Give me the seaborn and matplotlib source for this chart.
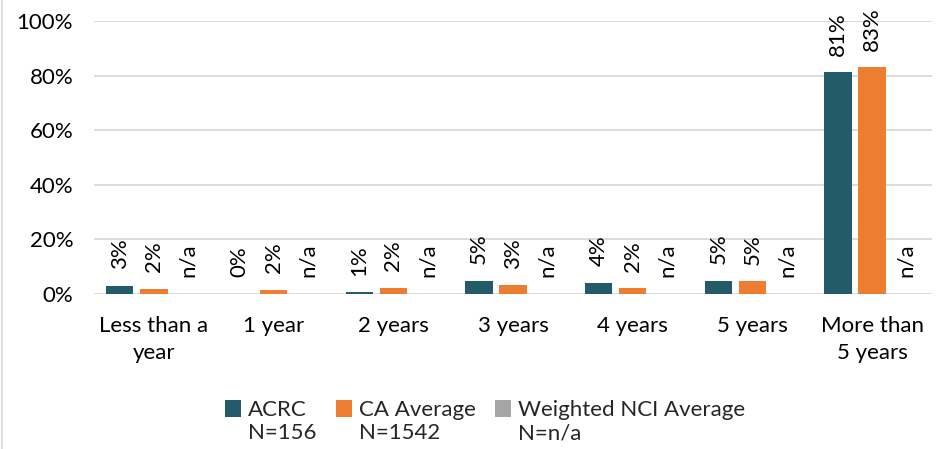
import matplotlib
matplotlib.use("Agg")
import matplotlib.pyplot as plt
import seaborn as sns
import pandas as pd
import numpy as np
from matplotlib.patches import Rectangle, Patch
from matplotlib.legend_handler import HandlerPatch

categories = ["Less than a\nyear", "1 year", "2 years", "3 years", "4 years", "5 years", "More than\n5 years"]
series = ["ACRC", "CA Average", "Weighted NCI Average"]
legend_labels = ["ACRC\nN=156", "CA Average\nN=1542", "Weighted NCI Average\nN=n/a"]
acrc = [2.9, 0.0, 0.6, 4.8, 4.2, 4.9, 81.2]
ca_avg = [1.8, 1.5, 2.3, 3.2, 2.1, 4.6, 83.0]
nci = [np.nan] * 7
colors = ["#245B6B", "#ED7D31", "#A5A5A5"]
yticks = [0, 20, 40, 60, 80, 100]

sns.set_theme(style="white")
plt.rcParams["font.family"] = ["Lato", "DejaVu Sans"]
FS = 16

rows = []
for s, vals in zip(series, [acrc, ca_avg, nci]):
    for c, v in zip(categories, vals):
        rows.append({"cat": c, "series": s, "value": 0.0 if np.isnan(v) else v, "na": np.isnan(v)})
df = pd.DataFrame(rows)

fig = plt.figure(figsize=(9.49, 4.49), dpi=100)
ax = fig.add_axes([94 / 949, 1 - 294 / 449, (932 - 94) / 949, (294 - 21) / 449])

sns.barplot(data=df, x="cat", y="value", hue="series", order=categories, hue_order=series,
            palette=colors, width=0.855, gap=0.2, ax=ax, legend=False, saturation=1,
            linewidth=0, err_kws={"linewidth": 0})

ax.set_ylim(0, 100)
ax.set_yticks(yticks)
ax.set_yticklabels([f"{t}%" for t in yticks], fontsize=FS, color="#000000")
ax.set_xlim(-0.5, len(categories) - 0.5)
ax.set_xticks(range(len(categories)))
ax.set_xticklabels(categories, fontsize=FS, color="#000000", linespacing=1.45)
ax.tick_params(axis="both", length=0)
ax.tick_params(axis="y", pad=15)
ax.tick_params(axis="x", pad=16)
ax.set_xlabel("")
ax.set_ylabel("")
for sp in ax.spines.values():
    sp.set_visible(False)
ax.yaxis.grid(True, color="#D9D9D9", linewidth=1.3)
ax.set_axisbelow(True)

# data labels
for container, s in zip(ax.containers, series):
    sub = df[df["series"] == s].set_index("cat").loc[categories]
    for bar, (_, r) in zip(container, sub.iterrows()):
        txt = "n/a" if r["na"] else f"{r['value']:.0f}%"
        x = bar.get_x() + bar.get_width() / 2
        ax.annotate(txt, (x, bar.get_height()), xytext=(0, 12), textcoords="offset points",
                    rotation=90, ha="center", va="bottom", fontsize=FS, color="#000000",
                    annotation_clip=False)


def top_square(legend, orig_handle, xdescent, ydescent, width, height, fontsize):
    return Rectangle((-xdescent, -ydescent + fontsize * 0.6), width, height)


handles = [Patch(facecolor=c, edgecolor="none") for c in colors]
leg = fig.legend(handles, legend_labels, loc="upper center", bbox_to_anchor=(0.511, 0.154),
                 ncol=3, frameon=False, fontsize=FS, handlelength=0.75, handleheight=0.75,
                 handletextpad=0.3, columnspacing=0.85,
                 handler_map={Patch: HandlerPatch(patch_func=top_square)})

fig.add_artist(plt.Line2D([1.5 / 949, 1.5 / 949], [0, 1], transform=fig.transFigure,
                          color="#D9D9D9", linewidth=1.2))

fig.savefig("out.png", dpi=100)
